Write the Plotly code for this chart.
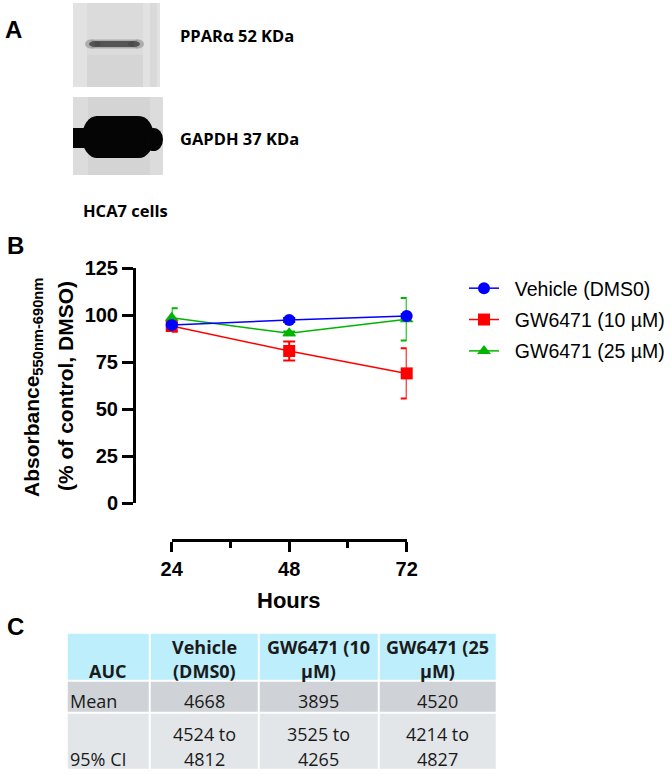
import plotly.graph_objects as go

W, H = 671, 775

# ---- panel B data ----
hours = [24, 48, 72]
vehicle = [94.8, 97.5, 99.6]
vehicle_err = [1.0, 1.0, 1.0]
gw10 = [94.3, 81.0, 69.1]
gw10_err = [3.0, 5.0, 13.4]
gw25 = [98.7, 90.4, 97.9]
gw25_err = [5.0, 1.0, 11.3]

# ---- panel C data ----
auc_header = ["AUC", "Vehicle<br>(DMS0)", "GW6471 (10<br>µM)", "GW6471 (25<br>µM)"]
row_labels = ["Mean", "95% CI"]
auc_vehicle = ["4668", "4524 to<br>4812"]
auc_gw10 = ["3895", "3525 to<br>4265"]
auc_gw25 = ["4520", "4214 to<br>4827"]

BLUE, RED, GREEN = "#0000ff", "#ff0000", "#00b400"
ARIAL = "Liberation Sans, Arial"
SANS = "Open Sans"

# table geometry (pixels)
TABLE_X, TABLE_Y = 66.7, 632.7
col_w = [83.3, 108.3, 120, 118.4]
row_h = [47.5, 32.5, 57.3]


def px(x):
    return x / W


def py(y):
    return 1 - y / H


fig = go.Figure()

series = [
    ("GW6471 (10 µM)", gw10, gw10_err, RED, "square", 2),
    ("GW6471 (25 µM)", gw25, gw25_err, GREEN, "triangle-up", 3),
    ("Vehicle (DMS0)", vehicle, vehicle_err, BLUE, "circle", 1),
]
for name, y, err, col, sym, rank in series:
    fig.add_trace(go.Scatter(
        x=hours, y=y, name="\u00a0\u00a0" + name, mode="lines+markers",
        line=dict(color=col, width=1.5),
        marker=dict(color=col, symbol=sym, size=12),
        error_y=dict(type="data", array=err, color=col, thickness=2, width=6),
        cliponaxis=False, legendrank=rank, legendgroup=name,
    ))

# ---- panel C: table cells as a heatmap on hidden axes ----
x_edges = [0]
for w in col_w:
    x_edges.append(x_edges[-1] + w)
y_edges = [0]
for h in row_h:
    y_edges.append(y_edges[-1] + h)
row_kind = [[0] * 4, [1] * 4, [2] * 4]
fig.add_trace(go.Heatmap(
    x=x_edges, y=y_edges, z=row_kind, xaxis="x2", yaxis="y2",
    zmin=0, zmax=2, showscale=False, xgap=2, ygap=2, hoverinfo="skip",
    colorscale=[[0, "#bdeefb"], [0.33, "#bdeefb"], [0.34, "#cfd3d7"],
                [0.66, "#cfd3d7"], [0.67, "#e3e6e9"], [1, "#e3e6e9"]],
    showlegend=False,
))

fig.update_layout(
    width=W, height=H,
    margin=dict(l=0, r=0, t=0, b=0, autoexpand=False),
    paper_bgcolor="white", plot_bgcolor="white",
    font=dict(family=ARIAL, color="black"),
    xaxis=dict(
        domain=[px(171.7), px(406.7)], anchor="free", position=py(540),
        range=[24, 72], tick0=24, dtick=24, showgrid=False, zeroline=False,
        showline=True, linecolor="black", linewidth=3, automargin=False,
        ticks="outside", ticklen=10, tickwidth=3, tickcolor="black",
        minor=dict(dtick=12, ticks="outside", ticklen=6, tickwidth=3, tickcolor="black"),
        tickfont=dict(family=ARIAL, size=20, weight="bold"),
        ticklabelstandoff=0,
    ),
    yaxis=dict(
        domain=[py(503.3), py(268.3)], anchor="free", position=px(134),
        range=[0, 125], dtick=25, showgrid=False, zeroline=False,
        showline=True, linecolor="black", linewidth=3, automargin=False,
        ticks="outside", ticklen=11, tickwidth=3, tickcolor="black",
        tickfont=dict(family=ARIAL, size=20, weight="bold"),
    ),
    xaxis2=dict(
        domain=[px(TABLE_X), px(TABLE_X + sum(col_w))], anchor="y2",
        range=[0, sum(col_w)], visible=False, fixedrange=True,
    ),
    yaxis2=dict(
        domain=[py(TABLE_Y + sum(row_h)), py(TABLE_Y)], anchor="x2",
        range=[sum(row_h), 0], visible=False, fixedrange=True,
    ),
    legend=dict(
        x=px(464), y=py(269), xanchor="left", yanchor="top",
        font=dict(family=ARIAL, size=19.5), bgcolor="rgba(0,0,0,0)",
        tracegroupgap=3, itemwidth=30,
    ),
    showlegend=True,
)

ann = [
    ("<b>A</b>", 13, 30, 24, ARIAL, 0),
    ("<b>B</b>", 15, 245, 24, ARIAL, 0),
    ("<b>C</b>", 15, 626, 24, ARIAL, 0),
    ("<b>Hours</b>", 289, 600, 22, ARIAL, 0),
    ("<b>Absorbance<sub>550nm-690nm</sub></b>", 33, 388, 21, ARIAL, -90),
    ("<b>(% of control, DMSO)</b>", 65, 386, 21, ARIAL, -90),
    ("<b>PPARα 52 KDa</b>", 237, 35, 16.5, SANS, 0),
    ("<b>GAPDH 37 KDa</b>", 239, 138, 16.5, SANS, 0),
    ("<b>HCA7 cells</b>", 125, 210, 16.5, SANS, 0),
]
for text, x, y, size, fam, ang in ann:
    fig.add_annotation(
        text=text, x=px(x), y=py(y), xref="paper", yref="paper",
        showarrow=False, xanchor="center", yanchor="middle", textangle=ang,
        font=dict(family=fam, size=size, color="black"),
    )

# table text, one annotation per line, in the table's own axis units
centers = [(x_edges[i] + x_edges[i + 1]) / 2 for i in range(4)]
tfont = dict(family=SANS, size=18, color="#1a1a1a")
# line centres (px from table top) for one- and two-line cells of each row
line_y = {0: ([38], [14, 38]), 1: ([68], [68]), 2: ([126], [101, 126])}


def cell_text(text, col, row, bold=False, left=False):
    lines = text.split("<br>")
    ys = line_y[row][0] if len(lines) == 1 else line_y[row][1]
    for line, y in zip(lines, ys):
        fig.add_annotation(
            text="<b>" + line + "</b>" if bold else line,
            x=x_edges[col] + 1.5 if left else centers[col], y=y,
            xref="x2", yref="y2", showarrow=False,
            xanchor="left" if left else "center", yanchor="middle", font=tfont,
        )


for i, t in enumerate(auc_header):
    cell_text(t, i, 0, bold=True)
for j, col in enumerate([auc_vehicle, auc_gw10, auc_gw25]):
    cell_text(col[0], j + 1, 1)
    cell_text(col[1], j + 1, 2)
cell_text(row_labels[0], 0, 1, left=True)
cell_text(row_labels[1], 0, 2, left=True)


# ---- panel A blot drawing ----
def rect(x0, y0, x1, y1, color, opacity=1.0):
    fig.add_shape(type="rect", xref="paper", yref="paper",
                  x0=px(x0), x1=px(x1), y0=py(y1), y1=py(y0), opacity=opacity,
                  fillcolor=color, line=dict(width=0), layer="below")


def blob(x0, y0, x1, y1, color, opacity=1.0):
    fig.add_shape(type="circle", xref="paper", yref="paper",
                  x0=px(x0), x1=px(x1), y0=py(y1), y1=py(y0),
                  fillcolor=color, opacity=opacity, line=dict(width=0), layer="below")


# top blot (PPARα)
rect(73, 3, 160, 87, "#e2e2e2")
rect(87, 3, 143, 87, "#dbdbdb")
rect(150, 3, 157, 87, "#d9d9d9")
rect(87, 55, 143, 87, "#d5d5d5")
blob(85, 39.5, 97, 48.5, "#9a9a9a", 0.7)
blob(132, 39.5, 144, 48.5, "#9a9a9a", 0.7)
rect(91, 39.5, 138, 48.5, "#9a9a9a", 0.7)
blob(89, 41, 101, 47, "#4a4a4a", 0.9)
blob(128, 41, 140, 47, "#4a4a4a", 0.9)
rect(95, 41, 134, 47, "#4a4a4a", 0.9)

# bottom blot (GAPDH)
rect(73, 97, 163, 175, "#dcdcdc")
rect(88, 97, 150, 175, "#d4d4d4")
rect(73, 128, 92, 148, "#050505")
blob(82, 116, 112, 158, "#050505")
rect(96, 116, 138, 158, "#050505")
blob(124, 116, 154, 158, "#050505")
blob(144, 128, 163, 151, "#050505")

fig.write_html(
    "out.html",
    config={"displayModeBar": False},
    post_script="document.body.style.margin='0';document.body.style.overflow='hidden';",
)
